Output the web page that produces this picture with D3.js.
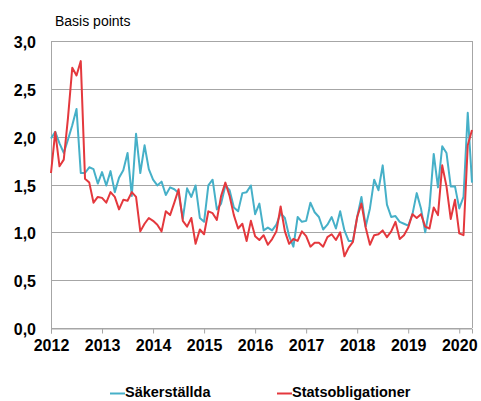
<!DOCTYPE html>
<meta charset="utf-8">
<style>
body{
  margin:0;
  background:#fff;
}
svg text{
  font-family: "Liberation Sans", Arial, sans-serif;
}
</style>
<body>
</body>
<script src="https://d3js.org/d3.v7.min.js"></script>
<script>
// monthly values, Jan 2012 - Apr 2020
var startYear = 2012;
var yearTicks = [2012, 2013, 2014, 2015, 2016, 2017, 2018, 2019, 2020];
var valueTicks = [0, 0.5, 1, 1.5, 2, 2.5, 3];
var seriesNames = ["Säkerställda", "Statsobligationer"];

var sakerstallda = [
  1.98, 2.05, 1.93, 1.83, 1.97, 2.12, 2.29, 1.62, 1.62, 1.68, 1.66, 1.51,
  1.63, 1.49, 1.64, 1.42, 1.57, 1.65, 1.83, 1.38, 2.03, 1.62, 1.91, 1.66,
  1.55, 1.49, 1.53, 1.39, 1.47, 1.45, 1.41, 1.14, 1.46, 1.37, 1.49, 1.15,
  1.11, 1.49, 1.55, 1.24, 1.30, 1.49, 1.44, 1.26, 1.22, 1.41, 1.42, 1.49,
  1.19, 1.30, 1.02, 1.05, 1.02, 1.08, 1.20, 1.15, 0.96, 0.85, 1.16, 1.11,
  1.12, 1.31, 1.21, 1.16, 1.03, 1.08, 1.16, 1.04, 1.22, 1.02, 0.91, 0.91,
  1.16, 1.37, 1.06, 1.25, 1.55, 1.44, 1.70, 1.29, 1.16, 1.17, 1.11, 1.09,
  1.07, 1.19, 1.41, 1.25, 1.00, 1.26, 1.82, 1.47, 1.90, 1.83, 1.48, 1.48,
  1.25, 1.37, 2.25, 1.52
];

var statsobligationer = [
  1.62, 2.05, 1.69, 1.76, 2.20, 2.72, 2.64, 2.79, 1.56, 1.52, 1.31, 1.37,
  1.36, 1.31, 1.42, 1.37, 1.24, 1.34, 1.33, 1.42, 1.37, 1.01, 1.09, 1.15,
  1.12, 1.08, 1.01, 1.22, 1.18, 1.31, 1.45, 1.12, 1.06, 1.15, 0.88, 1.03,
  0.98, 1.22, 1.20, 1.13, 1.38, 1.52, 1.38, 1.18, 1.04, 1.09, 0.91, 1.12,
  0.96, 0.92, 0.97, 0.87, 0.93, 1.01, 1.27, 1.01, 0.88, 0.93, 0.91, 1.01,
  0.96, 0.85, 0.89, 0.89, 0.85, 0.95, 0.98, 0.92, 1.00, 0.75, 0.84, 0.90,
  1.16, 1.30, 1.05, 0.87, 0.97, 0.98, 1.02, 0.95, 1.01, 1.11, 0.93, 0.97,
  1.05, 1.19, 1.15, 1.19, 1.06, 1.04, 1.26, 1.18, 1.70, 1.48, 1.14, 1.34,
  0.99, 0.97, 1.91, 2.07
];

var w = 481;
var h = 401;
// plot area (note: "top" is taken by window.top)
var plotLeft = 51, plotRight = 472, plotTop = 41, plotBottom = 328;
var teal = "#46b0c8";
var red = "#e4383d";
var grey = "#a6a6a6";

var svg = d3.select("body")
  .append("svg")
  .attr("width", w)
  .attr("height", h);

var x = d3.scaleLinear()
  .domain([startYear, startYear + 8.25])
  .range([plotLeft, plotRight]);

var y = d3.scaleLinear()
  .domain([0, 3])
  .range([plotBottom, plotTop]);

// gridlines
svg.selectAll(".grid")
  .data(valueTicks)
  .enter().append("line")
  .attr("class", "grid")
  .attr("x1", plotLeft)
  .attr("x2", plotRight)
  .attr("y1", function(d) { return Math.round(y(d)) + 0.5; })
  .attr("y2", function(d) { return Math.round(y(d)) + 0.5; })
  .attr("stroke", grey)
  .attr("stroke-width", 1);

// frame left + right
svg.append("line")
  .attr("x1", plotLeft + 0.5).attr("x2", plotLeft + 0.5)
  .attr("y1", y(3)).attr("y2", y(0))
  .attr("stroke", grey);
svg.append("line")
  .attr("x1", plotRight + 0.5).attr("x2", plotRight + 0.5)
  .attr("y1", y(3)).attr("y2", y(0))
  .attr("stroke", grey);

// y labels
svg.selectAll(".ylab")
  .data(valueTicks)
  .enter().append("text")
  .attr("class", "ylab")
  .attr("x", 36)
  .attr("y", function(d) { return y(d) + 7; })
  .attr("text-anchor", "end")
  .style("font-size", "16px")
  .style("font-weight", "bold")
  .attr("fill", "#000")
  .text(function(d) { return d.toFixed(1).replace(".", ","); });

// x axis
var xAxis = d3.axisBottom(x)
  .tickValues(yearTicks)
  .tickSize(5)
  .tickFormat(d3.format("d"));

var gx = svg.append("g")
  .attr("transform", "translate(0," + (plotBottom + 0.5) + ")")
  .call(xAxis);
gx.select(".domain").attr("stroke", grey);
gx.selectAll(".tick line").attr("stroke", grey);
gx.selectAll(".tick text")
  .attr("y", 8)
  .attr("dy", "0.9em")
  .style("font-size", "16px")
  .style("font-weight", "bold")
  .style("font-family", "'Liberation Sans', Arial, sans-serif")
  .attr("fill", "#000");

svg.append("text")
  .attr("x", 55)
  .attr("y", 26)
  .style("font-size", "14px")
  .attr("fill", "#000")
  .text("Basis points");

var line = d3.line()
  .x(function(d, i) { return x(startYear + i / 12); })
  .y(function(d) { return y(d); });

svg.append("path")
  .datum(sakerstallda)
  .attr("d", line)
  .attr("fill", "none")
  .attr("stroke", teal)
  .attr("stroke-width", 2)
  .attr("stroke-linejoin", "round");

svg.append("path")
  .datum(statsobligationer)
  .attr("d", line)
  .attr("fill", "none")
  .attr("stroke", red)
  .attr("stroke-width", 2)
  .attr("stroke-linejoin", "round");

// legend
var legend = svg.selectAll(".legend")
  .data(seriesNames)
  .enter().append("g")
  .attr("class", "legend")
  .attr("transform", function(d, i) { return "translate(" + (i == 0 ? 110 : 277) + ",0)"; });

legend.append("line")
  .attr("x1", 0).attr("x2", 15)
  .attr("y1", 393.5).attr("y2", 393.5)
  .attr("stroke", function(d, i) { return i == 0 ? teal : red; })
  .attr("stroke-width", 2);

legend.append("text")
  .attr("x", 15)
  .attr("y", 397)
  .style("font-size", "14.5px")
  .style("font-weight", "bold")
  .attr("fill", "#000")
  .text(function(d) { return d; });
</script>
